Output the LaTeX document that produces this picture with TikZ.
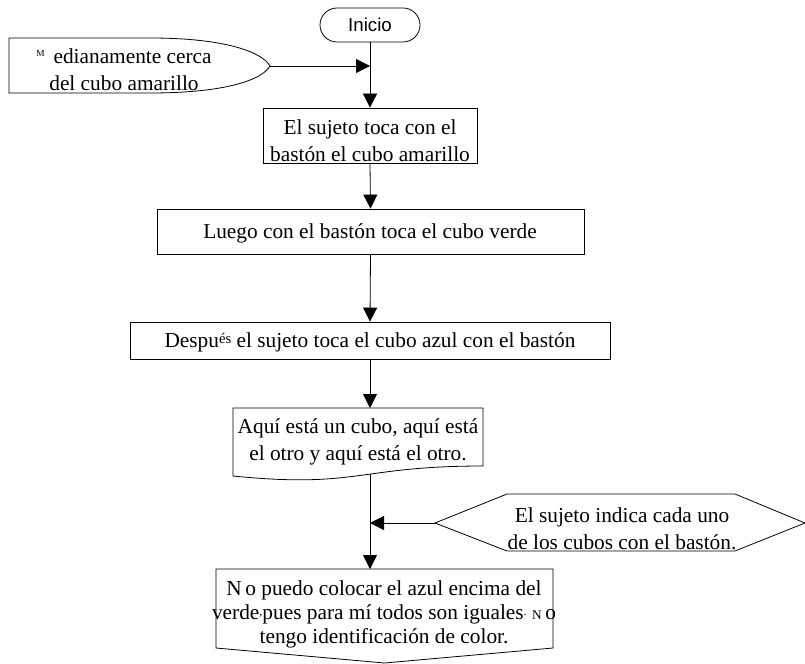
\documentclass[tikz,border=0pt]{standalone}
\usepackage{fontspec}
\setmainfont{Liberation Serif}
\newfontfamily\arialf{Liberation Sans}
\usetikzlibrary{shapes.misc,arrows.meta}
\begin{document}
\begin{tikzpicture}[x=0.75pt,y=-0.75pt,
  shp/.style={draw=black, line width=0.6pt},
  flow/.style={draw=black, line width=0.6pt, -{Triangle[length=10.5pt,width=10.5pt]}},
  txt/.style={font=\fontsize{16}{20.25}\selectfont, align=center, inner sep=0pt, anchor=base},
  rbox/.style={shp, inner sep=0pt},
]
\useasboundingbox (0,0) rectangle (805,663);

% Inicio
\node[shp, rounded rectangle, minimum width=75pt, minimum height=25.5pt, inner sep=0pt,
  font=\arialf\fontsize{14}{16}\selectfont] (inicio) at (370,25) {Inicio};

% Medianamente (display-like shape)
\draw[shp] (9,38) -- (150,38) .. controls (225,38) and (262,52) .. (270,66)
  .. controls (262,80) and (225,93) .. (150,93) -- (9,93) -- cycle;
\coordinate (mtip) at (270,66);
\node[txt] (tm) at (124,91) {{\fontsize{7}{8}\selectfont\raisebox{0.75em}{M}}\ \,edianamente cerca\\del cubo amarillo};

% Box 1
\node[rbox, minimum width=214*0.75pt, minimum height=55*0.75pt] (b1) at (370,135.5) {};
\node[txt] (t1) at (370,161) {El sujeto toca con el\\bastón el cubo amarillo};

% Box 2
\node[rbox, minimum width=427*0.75pt, minimum height=45*0.75pt] (b2) at (370.5,231.5) {};
\node[txt] (t2) at (370,238) {Luego con el bastón toca el cubo verde};

% Box 3
\node[rbox, minimum width=480*0.75pt, minimum height=37*0.75pt] (b3) at (370,340.5) {};
\node[txt] (t3) at (370,347) {Despu{\fontsize{11}{12}\selectfont\raisebox{3pt}{és}} el sujeto toca el cubo azul con el bastón};

% Document shape
\draw[shp] (233,408) -- (483,408) -- (483,466) .. controls (358,466) and (358,488.6) .. (233,476) -- cycle;
\coordinate (docT) at (370,408);
\coordinate (docB) at (370,473.6);
\node[txt] (t4) at (358,460) {Aquí está un cubo, aquí está\\el otro y aquí está el otro.};

% Hexagon
\draw[shp] (435,523) -- (507,494) -- (735,494) -- (805,523) -- (735,551) -- (507,551) -- cycle;
\coordinate (hexL) at (435,523);
\node[txt] (t5) at (622,549) {El sujeto indica cada uno\\de los cubos con el bastón.};

% Off-page connector
\draw[shp] (216,569) -- (553,569) -- (553,648) -- (384.5,663) -- (216,648) -- cycle;
\coordinate (lastT) at (370,569);
\node[txt, font=\fontsize{16}{18}\selectfont] (t6) at (384,643) {N\,o puedo colocar el azul encima del\\verde{\fontsize{9}{9}\selectfont\raisebox{3pt}{,}}pues para mí todos son iguales{\fontsize{9}{9}\selectfont\raisebox{3pt}{.}} {\fontsize{10}{10}\selectfont N}\,o\\tengo identificación de color.};

% junctions
\coordinate (j1) at (370,66);
\coordinate (j2) at (370,523);

% connectors
\draw[flow] (inicio.south) -- (b1.north);
\draw[flow] (mtip) -- (j1);
\draw[flow] (b1.south) -- (b2.north);
\draw[flow] (b2.south) -- (b3.north);
\draw[flow] (b3.south) -- (docT);
\draw[flow] (docB) -- (lastT);
\draw[flow] (hexL) -- (j2);
\end{tikzpicture}
\end{document}
